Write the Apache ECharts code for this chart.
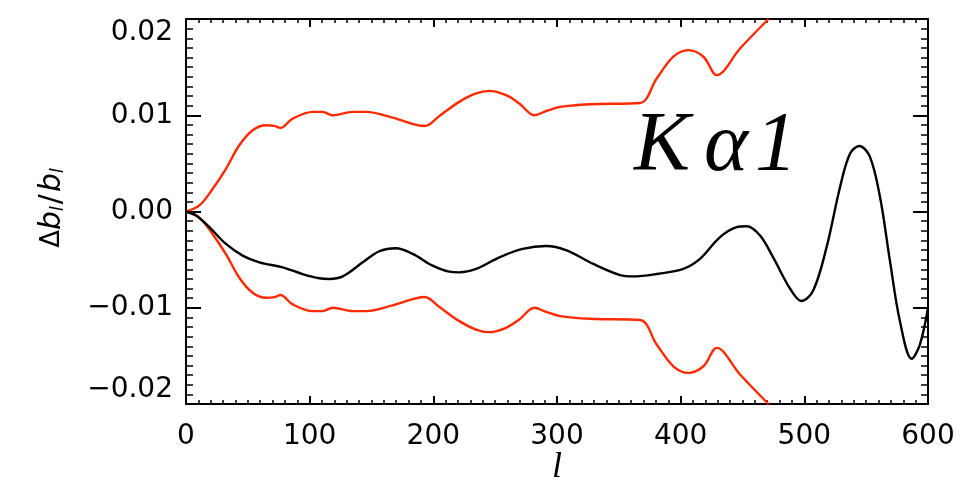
<!DOCTYPE html>
<html>
<head>
<meta charset="utf-8">
<script src="https://cdn.jsdelivr.net/npm/echarts@6/dist/echarts.min.js"></script>
<style>
html,body{margin:0;padding:0;background:#fff;}
#c{width:964px;height:491px;}
</style>
</head>
<body>
<div id="c"></div>
<script>
// multipole l and relative beam-window deviation
var blackL = [0,8.1,18.9,32.3,45.8,59.3,78.2,94.3,107.8,115.9,126.7,142.9,156.3,169.8,183.3,199.5,212.9,221,234.5,253.4,272.2,291.1,307.8,329.4,351,361.7,380.6,402.1,415.6,431.8,445.3,453.4,464.2,474.9,488.4,497.5,507.2,518,528.8,536.9,544.5,553,561.2,569.2,577.3,586.8,593.5,600];
var blackV = [0,-0.00042,-0.00163,-0.00337,-0.00458,-0.00528,-0.0058,-0.0065,-0.00694,-0.00701,-0.00674,-0.00528,-0.00413,-0.00382,-0.00441,-0.00563,-0.00625,-0.00632,-0.00597,-0.00476,-0.00389,-0.00358,-0.00403,-0.00545,-0.0066,-0.00674,-0.00649,-0.00597,-0.00493,-0.00267,-0.00163,-0.00153,-0.0025,-0.0048,-0.0080,-0.0093,-0.0082,-0.0037,0.0025,0.0060,0.0068,0.0057,0.0015,-0.0051,-0.0114,-0.0153,-0.0138,-0.0100];
var upperL = [0,10.8,21.6,32.3,43.1,53.9,64.7,71.4,76.3,86.3,102.4,110.5,118.6,134.8,145.6,167,193,204.9,221,234.5,245.3,258.8,269.5,281.7,291,302.4,326.7,367.1,380.6,394.1,406.2,418.4,429.2,448,471];
var upperV = [0,0.00063,0.00236,0.00444,0.00688,0.00844,0.00896,0.00889,0.00868,0.00965,0.01035,0.01035,0.0100,0.01035,0.01035,0.00976,0.00889,0.00993,0.01139,0.01226,0.01253,0.01208,0.01122,0.0100,0.01042,0.01087,0.01115,0.01128,0.01382,0.01608,0.01677,0.01608,0.01417,0.01694,0.0200];
var lowerL = [0,10.8,21.6,32.3,43.1,53.9,64.7,71.4,76.3,86.3,102.4,110.5,118.6,134.8,145.6,167,193,204.9,221,234.5,245.3,258.8,269.5,281.7,291,302.4,326.7,367.1,380.6,394.1,406.2,418.4,429.2,448,471];
var lowerV = [0,-0.00063,-0.00236,-0.00444,-0.00688,-0.00844,-0.00896,-0.00889,-0.00868,-0.00965,-0.01035,-0.01035,-0.0100,-0.01035,-0.01035,-0.00976,-0.00889,-0.00993,-0.01139,-0.01226,-0.01253,-0.01208,-0.01122,-0.0100,-0.01042,-0.01087,-0.01115,-0.01128,-0.01382,-0.01608,-0.01677,-0.01608,-0.01417,-0.01694,-0.0200];
var xTicks = [0,100,200,300,400,500,600];
var yTicks = [-0.02,-0.01,0.00,0.01,0.02];

function pairs(a,b){ return a.map(function(v,i){ return [v,b[i]]; }); }

var chart = echarts.init(document.getElementById('c'));
var font = 'DejaVu Sans';
var axisCommon = function(pos, show, isX){
  return {
    type:'value', position:pos,
    min: isX ? xTicks[0] : yTicks[0],
    max: isX ? xTicks[xTicks.length-1] : yTicks[yTicks.length-1],
    interval: isX ? 100 : 0.01,
    axisLine:{show:true,onZero:false,lineStyle:{color:'#000',width:2}},
    axisTick:{show:true,inside:true,length:isX?8:15,lineStyle:{color:'#000',width:2}},
    minorTick:{show:true,splitNumber:10,length:isX?4:7,lineStyle:{color:'#000',width:1.5}},
    splitLine:{show:false},
    axisLabel:{show:show}
  };
};
var xb = axisCommon('bottom', true, true);
xb.axisLabel = {show:true,fontFamily:font,fontSize:28,color:'#000',margin:19,
  formatter:function(v){return String(v);}};
var xt = axisCommon('top', false, true);
var yl = axisCommon('left', true, false);
yl.axisLabel = {show:true,fontFamily:font,fontSize:28,color:'#000',margin:13,
  verticalAlignMaxLabel:'top', verticalAlignMinLabel:'bottom',
  formatter:function(v){ var s=Math.abs(v).toFixed(2); return (v< -1e-9?'\u2212':'')+s; }};
var yr = axisCommon('right', false, false);

var kFont = {fontFamily:'Liberation Serif', fontStyle:'italic', fontSize:84, fill:'#000', align:'center', verticalAlign:'middle'};
function kText(t, x){ return {type:'text', x:x, y:148, style:Object.assign({text:t}, kFont)}; }

chart.setOption({
  animation:false,
  backgroundColor:'#fff',
  grid:{left:186,right:36,top:19,bottom:87,containLabel:false},
  xAxis:[xb, xt],
  yAxis:[yl, yr],
  graphic:[
    {type:'text', x:52, y:208, rotation:Math.PI/2,
     style:{text:'{d|\u0394}{b|b}{s|l}{sl|/}{b|b}{s|l}', align:'center', verticalAlign:'middle',
       rich:{
         d:{fontFamily:font,fontSize:26,fill:'#000'},
         b:{fontFamily:font,fontStyle:'italic',fontSize:30,fill:'#000'},
         s:{fontFamily:font,fontStyle:'italic',fontSize:17,fill:'#000',verticalAlign:'bottom',padding:[12,0,0,0]},
         sl:{fontFamily:font,fontSize:30,fill:'#000',padding:[0,2,0,2]}
       }}},
    {type:'text', x:557, y:468,
     style:{text:'l', fontFamily:'Liberation Serif', fontStyle:'italic', fontSize:36, fill:'#000', align:'center', verticalAlign:'middle'}},
    kText('K', 662),
    kText('\u03b1', 726),
    kText('1', 776)
  ],
  series:[
    {type:'line', data:pairs(upperL,upperV), showSymbol:false, smooth:0.35, clip:true,
     lineStyle:{color:'#ff2a00',width:2.4}},
    {type:'line', data:pairs(lowerL,lowerV), showSymbol:false, smooth:0.35, clip:true,
     lineStyle:{color:'#ff2a00',width:2.4}},
    {type:'line', data:pairs(blackL,blackV), showSymbol:false, smooth:0.35, clip:true,
     lineStyle:{color:'#000',width:2.4}}
  ]
});
</script>
</body>
</html>
